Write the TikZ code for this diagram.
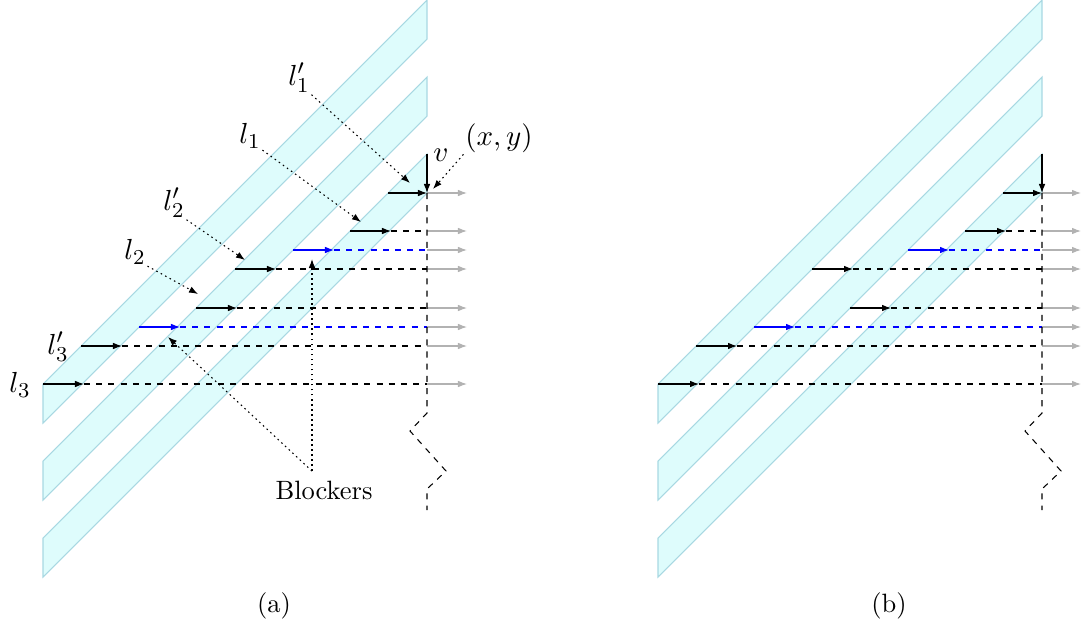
\documentclass[tikz,border=0pt]{standalone}
\usetikzlibrary{arrows.meta}
\definecolor{bandfill}{RGB}{222,252,252}
\definecolor{bandedge}{RGB}{168,216,226}
\begin{document}
\begin{tikzpicture}[x=0.3774pt,y=-0.3774pt,
  band/.style={fill=bandfill,draw=bandedge,line width=0.4pt},
  solidarr/.style={-{Latex[length=3.4pt,width=2.5pt]}},
  dashline/.style={dash pattern=on 2.3pt off 2.3pt},
  greyarr/.style={gray!60,-{Latex[length=3.4pt,width=2.5pt]}},
  dotarr/.style={dash pattern=on 0.6pt off 1.3pt,-{Latex[length=3.4pt,width=2.5pt]}},
  lbl/.style={font=\fontsize{10.95}{13}\selectfont,inner sep=0.5pt},
  txt/.style={inner sep=0pt}]
\useasboundingbox (0,0) rectangle (1083,630);

% ---------- bands ----------
\foreach \dx in {0,615}{
  \foreach \k in {0,1,2}{
    \filldraw[band] (43+\dx,384+77*\k) -- (427+\dx,77*\k) -- (427+\dx,77*\k+39)
      -- (43+\dx,423+77*\k) -- cycle;
  }
}

% ---------- panel (a) rows ----------
\foreach \y/\xs/\c in {231/350/black,250/293/blue,269/235/black,308/196/black,
                       327/139/blue,346/81/black,384/43/black}{
  \draw[solidarr,\c] (\xs,\y) -- (\xs+41,\y);
  \draw[dashline,\c] (\xs+41,\y) -- (427,\y);
  \draw[greyarr] (427,\y) -- (467,\y);
}
% ---------- panel (b) rows ----------
\foreach \y/\xs/\c in {231/965/black,250/908/blue,269/812/black,308/850/black,
                       327/754/blue,346/696/black,384/658/black}{
  \draw[solidarr,\c] (\xs,\y) -- (\xs+41,\y);
  \draw[dashline,\c] (\xs+41,\y) -- (1042,\y);
  \draw[greyarr] (1042,\y) -- (1081,\y);
}

% ---------- corner point v and vertical dashed lines ----------
\foreach \dx/\gx in {0/467,615/466}{
  \coordinate (v\dx) at (427+\dx,193);
  \draw[greyarr] (v\dx) -- (\gx+\dx,193);
  \draw[solidarr] (388+\dx,193) -- (v\dx);
  \draw[solidarr] (427+\dx,154) -- (v\dx);
  \draw[dashline] (v\dx) -- (427+\dx,413) -- (410+\dx,431) -- (446+\dx,471)
    -- (427+\dx,489) -- (427+\dx,510);
}

% ---------- labels of panel (a) ----------
\node[lbl] (l1p) at (299,78) {$l'_1$};
\node[lbl] (l1)  at (250,136) {$l_1$};
\node[lbl] (l2p) at (174,203) {$l'_2$};
\node[lbl] (l2)  at (135,252) {$l_2$};
\node[lbl] (l3p) at (58,347) {$l'_3$};
\node[lbl] (l3)  at (20,385) {$l_3$};
\node[lbl] (xy)  at (499,138) {$(x,y)$};
\node[lbl] (vl)  at (441,155) {$v$};
\node[txt] (blk) at (324,490) {Blockers};
\node[txt] (capa) at (274,606) {(a)};
\node[txt] (capb) at (889,606) {(b)};

\coordinate (t1p) at (410,183);
\coordinate (t1)  at (361,222);
\coordinate (t2p) at (245,260);
\coordinate (t2)  at (198,294);
\coordinate (txy) at (433,189);
\coordinate (apex) at (312,471);
\coordinate (tb1) at (312,259);
\coordinate (tb2) at (168,337);

\draw[dotarr] (l1p.south east) -- (t1p);
\draw[dotarr] (l1.south east) -- (t1);
\draw[dotarr] (l2p.south east) -- (t2p);
\draw[dotarr] (l2.south east) -- (t2);
\draw[dotarr] (xy.south west) -- (txy);
\draw[dotarr] (apex) -- (tb1);
\draw[dotarr] (apex) -- (tb2);
\end{tikzpicture}
\end{document}
